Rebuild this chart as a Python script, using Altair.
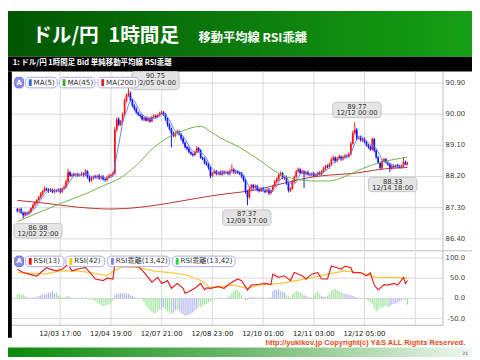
import altair as alt
import pandas as pd
import numpy as np

# ---------------- data ----------------
# hourly closes, bar 0 = 12/02 19:00 ... bar 200 = 12/15 03:00
close = [
    87.20, 87.25, 87.15, 87.08, 87.15, 87.12, 87.18, 87.28, 87.38, 87.45,
    87.52, 87.60, 87.70, 87.78, 87.85, 87.82, 87.78, 87.82, 87.76, 87.80,
    87.78, 87.82, 87.76, 87.85, 87.90, 88.05, 88.32, 88.22, 88.26, 88.24,
    88.27, 88.23, 88.25, 88.28, 88.24, 88.35, 88.18, 88.08, 88.15, 88.20,
    88.18, 88.22, 88.15, 88.20, 88.12, 88.10, 88.18, 88.22, 88.25, 88.30,
    89.55, 89.85, 89.70, 89.80, 90.00, 90.40, 90.55, 90.60, 90.40, 90.25,
    90.15, 90.05, 89.98, 89.95, 89.85, 89.90, 89.82, 89.88, 89.80, 89.92,
    89.95, 89.92, 89.98, 90.02, 90.05, 90.00, 89.85, 89.70, 89.58, 89.45,
    89.38, 89.45, 89.50, 89.42, 89.30, 89.18, 89.05, 89.00, 88.90, 88.85,
    88.82, 88.90, 89.02, 88.95, 88.75, 88.70, 88.60, 88.55, 88.45, 88.22,
    88.30, 88.35, 88.28, 88.32, 88.26, 88.34, 88.30, 88.33, 88.28, 88.36,
    88.40, 88.32, 88.35, 88.30, 88.28, 88.20, 88.10, 87.75, 87.60, 87.85,
    87.95, 87.88, 87.92, 87.82, 87.78, 87.85, 87.80, 87.76, 87.82, 87.72,
    87.80, 87.92, 88.05, 88.12, 88.25, 88.30, 88.15, 88.18, 88.00, 87.80,
    87.85, 88.05, 88.20, 88.35, 88.40, 88.30, 88.35, 88.28, 88.32, 88.26,
    88.25, 88.28, 88.22, 88.26, 88.30, 88.27, 88.35, 88.42, 88.50, 88.48,
    88.55, 88.68, 88.75, 88.65, 88.72, 88.78, 88.70, 88.76, 88.80, 88.78,
    88.85, 89.15, 89.45, 89.55, 89.30, 89.32, 89.25, 89.28, 89.20, 89.10,
    89.05, 88.98, 89.28, 88.95, 88.75, 88.60, 88.45, 88.65, 88.70, 88.60,
    88.55, 88.45, 88.50, 88.48, 88.52, 88.50, 88.47, 88.52, 88.62, 88.56,
    88.58,
]
first_open = 87.25
# wick lengths above / below the body, in sen (0.01 yen)
upper_wick = [
    4, 3, 5, 2, 4, 3, 5, 3, 4, 3,
    3, 4, 5, 3, 6, 3, 4, 5, 3, 4,
    3, 5, 4, 3, 4, 6, 10, 4, 3, 5,
    3, 4, 3, 5, 4, 6, 3, 4, 5, 3,
    4, 3, 5, 3, 4, 3, 4, 5, 3, 4,
    8, 5, 6, 4, 5, 6, 5, 15, 6, 5,
    4, 5, 3, 4, 5, 3, 4, 5, 3, 4,
    5, 4, 3, 5, 6, 4, 3, 5, 4, 3,
    5, 4, 6, 3, 4, 5, 3, 4, 5, 3,
    4, 5, 6, 3, 4, 3, 5, 4, 3, 4,
    3, 5, 4, 3, 4, 5, 3, 4, 3, 5,
    15, 4, 5, 3, 4, 5, 3, 4, 6, 5,
    4, 3, 5, 4, 3, 4, 5, 3, 4, 5,
    3, 4, 5, 6, 4, 5, 3, 4, 5, 3,
    4, 5, 3, 4, 6, 4, 5, 3, 4, 5,
    3, 4, 5, 3, 4, 5, 3, 6, 4, 5,
    4, 6, 5, 3, 4, 5, 3, 4, 5, 4,
    5, 6, 8, 22, 5, 4, 6, 4, 5, 3,
    4, 5, 4, 3, 5, 4, 3, 5, 4, 3,
    4, 3, 5, 4, 3, 5, 4, 3, 13, 4,
    5,
]
lower_wick = [
    4, 5, 3, 10, 4, 5, 3, 4, 3, 5,
    4, 3, 4, 5, 3, 4, 5, 3, 4, 5,
    4, 3, 5, 4, 3, 4, 5, 3, 4, 3,
    5, 4, 3, 4, 5, 3, 4, 5, 3, 4,
    3, 4, 5, 3, 4, 5, 4, 3, 4, 5,
    5, 6, 5, 4, 5, 4, 6, 5, 4, 5,
    5, 4, 3, 5, 4, 5, 3, 4, 5, 3,
    4, 5, 3, 4, 3, 5, 4, 6, 5, 41,
    4, 5, 3, 4, 6, 5, 4, 5, 3, 4,
    5, 3, 4, 5, 4, 3, 5, 4, 5, 7,
    4, 3, 5, 4, 3, 4, 5, 3, 4, 5,
    3, 4, 5, 3, 4, 5, 6, 5, 23, 4,
    5, 4, 3, 5, 4, 3, 4, 5, 3, 6,
    4, 5, 3, 4, 5, 4, 3, 5, 4, 6,
    5, 4, 3, 5, 4, 3, 4, 41, 5, 3,
    4, 5, 3, 4, 5, 3, 4, 5, 3, 4,
    5, 4, 3, 5, 4, 3, 5, 4, 5, 3,
    4, 5, 3, 4, 5, 3, 4, 5, 4, 3,
    5, 4, 3, 5, 4, 3, 4, 5, 4, 3,
    4, 12, 5, 3, 4, 5, 3, 4, 5, 3,
    4,
]

ma45_idx = [0, 14, 24, 35, 46, 51, 61, 70, 77, 84, 94, 100, 104, 114, 124, 134, 143, 153, 160, 168, 177, 187, 197, 200]
ma45_val = [86.90, 87.23, 87.46, 87.70, 87.98, 88.10, 88.52, 89.04, 89.32, 89.50, 89.65, 89.46, 89.32, 89.04, 88.68, 88.29, 88.12, 88.07, 88.07, 88.20, 88.43, 88.62, 88.73, 88.76]
ma200_idx = [0, 14, 30, 48, 107, 120, 137, 153, 160, 174, 185, 200]
ma200_val = [87.51, 87.43, 87.32, 87.26, 87.70, 87.79, 88.01, 88.20, 88.24, 88.30, 88.40, 88.46]

rsi13_idx = [0, 3, 6, 10, 12, 15, 17, 20, 23, 26, 28, 32, 35, 38, 40, 44, 46, 49, 50, 52, 54, 56, 58, 60, 62, 64, 66, 69,
             72, 74, 77, 79, 82, 85, 86, 88, 91, 94, 96, 97, 99, 103, 106, 109, 113, 115, 118, 120, 124, 127, 130, 131,
             134, 137, 140, 142, 146, 148, 151, 154, 156, 159, 161, 164, 166, 168, 171, 172, 176, 179, 181, 183, 185,
             188, 190, 193, 195, 198, 199, 200]
rsi13_val = [72, 64, 60, 55, 64, 76, 72, 68, 72, 84, 68, 74, 76, 60, 48, 44, 50, 48, 86, 82, 84, 80, 83, 80, 78, 70, 58, 40,
             52, 37, 44, 25, 37, 25, 13, 17, 25, 37, 21, 26, 25, 29, 25, 37, 48, 44, 21, 33, 35, 37, 34, 60,
             52, 56, 44, 64, 56, 48, 60, 64, 48, 48, 80, 76, 72, 80, 76, 64, 64, 56, 63, 33, 21,
             34, 33, 37, 33, 52, 37, 44]
rsi42_idx = [0, 14, 22, 30, 38, 46, 50, 54, 62, 70, 79, 87, 95, 99, 103, 111, 118, 124, 135, 143, 152, 159, 168, 176, 184, 192, 200]
rsi42_val = [64, 60, 68, 68, 64, 56, 70, 78, 76, 68, 63, 58, 42, 26, 29, 33, 25, 33, 37, 44, 52, 60, 68, 63, 52, 52, 50]

# RSI kairi histogram, one bar per hour, and its two colour classes (p = lavender, g = green)
kairi = [
    10, 12, 9, 11, 6, 3, 2, 1, 2, 3,
    4, 6, 8, 10, 9, 12, 14, 15, 18, 12,
    14, 8, 5, 3, 2, 4, 5, 3, 2, 1,
    -1, -2, 1, 2, -1, 2, -2, -3, -2, -4,
    -6, -10, -14, -17, -19, -18, -16, -15, -12, -6,
    8, 12, 13, 13, 12, 13, 12, 11, 8, 6,
    3, 1, -2, 2, -3, -10, -18, -25, -30, -34,
    -38, -36, -32, -28, -25, -22, -26, -32, -36, -38,
    -35, -30, -28, -32, -36, -40, -43, -42, -40, -38,
    -35, -30, -26, -20, -22, -18, -15, -14, -10, -8,
    -4, -2, -1, 1, 2, -2, -1, 2, 3, 8,
    14, 18, 21, 20, 15, 8, -2, -4, -3, 2,
    3, 2, 3, 2, 1, 3, 2, 1, 2, 1,
    3, 18, 22, 20, 23, 19, 16, 14, 8, 5,
    3, 10, 15, 18, 17, 14, 12, 8, 6, 4,
    3, 2, 8, 14, 18, 12, 6, 4, 3, 5,
    12, 18, 22, 23, 20, 18, 15, 14, 12, 10,
    9, 8, 6, 4, 2, 1, -1, 1, -2, -4,
    -6, -10, -14, -25, -31, -28, -22, -24, -20, -18,
    -22, -20, -16, -14, -12, -10, -8, -5, 2, -4,
    -15,
]
kairi_kind = list("".join([
    "ggggggggpp", "pppppppppp", "gggggppggg", "ggppgpgggg", "gggggggggg",
    "pppppppppp", "pggggggggg", "ggggppgggg", "ppgppppppp", "pppggggggg",
    "ggpppggppg", "ggggggpppp", "pppppppggp", "pppppgppgg", "gggggggppg",
    "ppggggpppg", "ggggggggpp", "pppppggpgg", "gggggggggg", "gppppppppg",
    "g",
]))

x_tick_idx = [22, 48, 74, 100, 126, 152, 178]
x_tick_lab = ["12/03 17:00", "12/04 19:00", "12/07 21:00", "12/08 23:00",
              "12/10 01:00", "12/11 03:00", "12/12 05:00"]
grid_idx = x_tick_idx + [204]
price_ticks = [86.40, 87.30, 88.20, 89.10, 90.00, 90.90]
rsi_ticks = [100.0, 50.0, 0.0, -50.0]

note_value = ["90.75", "89.77", "88.33", "87.37", "86.98"]
note_time = ["12/05 04:00", "12/12 00:00", "12/14 18:00", "12/09 17:00", "12/02 22:00"]

ma_legend = ["MA(5)", "MA(45)", "MA(200)"]
rsi_legend = ["RSI(13)", "RSI(42)", "RSI乖離(13,42)", "RSI乖離(13,42)"]

N = len(close)
assert len(upper_wick) == N and len(lower_wick) == N and len(kairi) == N and len(kairi_kind) == N

# ---------------- tables ----------------
c = np.array(close)
o = np.array([first_open] + close[:-1])
candles = pd.DataFrame({
    "i": np.arange(N), "o": o, "c": c,
    "h": np.maximum(o, c) + np.array(upper_wick) / 100.0,
    "l": np.minimum(o, c) - np.array(lower_wick) / 100.0,
})
candles["dir"] = np.where(candles["c"] >= candles["o"], "up", "down")
ma45 = pd.DataFrame({"i": ma45_idx, "v": ma45_val})
ma200 = pd.DataFrame({"i": ma200_idx, "v": ma200_val})
rsi13 = pd.DataFrame({"i": rsi13_idx, "v": rsi13_val})
rsi42 = pd.DataFrame({"i": rsi42_idx, "v": rsi42_val})
hist = pd.DataFrame({"i": np.arange(N), "v": kairi, "z": 0.0, "k": kairi_kind})
xt = pd.DataFrame({"i": x_tick_idx, "lab": x_tick_lab})
gx = pd.DataFrame({"i": grid_idx})
pt = pd.DataFrame({"v": price_ticks, "lab": [f"{v:.2f}" for v in price_ticks]})
rt = pd.DataFrame({"v": rsi_ticks, "lab": [f"{v:.1f}" for v in rsi_ticks]})
one = pd.DataFrame({"k": [0]})

# ---------------- layout (reference pixels scaled to the visible page) ----------------
W, H = 472, 352
FX, FY = W / 480.0, H / 360.0


def px(X):
    return round(X * FX, 2)


def py(Y):
    return round(Y * FY, 2)


I_DOM = [(0 - 4.65) / 2.0615, (480 - 4.65) / 2.0615]
P_DOM = [90.90 - (360 - 75) / 36.0, 90.90 + 75 / 36.0]
R_DOM = [(299 - 360) / 0.42, 299 / 0.42]


def XI(f):
    return alt.X(f, scale=alt.Scale(domain=I_DOM, nice=False, zero=False), axis=None)


def PY(f):
    return alt.Y(f, scale=alt.Scale(domain=P_DOM, nice=False, zero=False), axis=None)


def RY(f):
    return alt.Y(f, scale=alt.Scale(domain=R_DOM, nice=False, zero=False), axis=None)


def rect(x1, y1, x2, y2, **kw):
    return alt.Chart(one).mark_rect(**kw).encode(
        x=alt.value(px(x1)), x2=alt.value(px(x2)), y=alt.value(py(y1)), y2=alt.value(py(y2)))


def text(s, X, Y, **kw):
    return alt.Chart(one).mark_text(text=s, **kw).encode(x=alt.value(px(X)), y=alt.value(py(Y)))


def hline(Y, X1, X2, color, w=1):
    return alt.Chart(one).mark_rule(color=color, strokeWidth=w).encode(
        x=alt.value(px(X1)), x2=alt.value(px(X2)), y=alt.value(py(Y)))


def vline(X, Y1, Y2, color, w=1):
    return alt.Chart(one).mark_rule(color=color, strokeWidth=w).encode(
        x=alt.value(px(X)), y=alt.value(py(Y1)), y2=alt.value(py(Y2)))


FONT = "DejaVu Sans, Noto Sans CJK JP"
JP = "Noto Sans CJK JP"
GRID = "#d9d9d9"
BORDER = "#bdbdbd"

layers = []

# backgrounds
layers.append(rect(0, 47, 480, 350, color="#ffffff"))
layers.append(rect(0, 0, 480, 47.5, color=alt.LinearGradient(
    gradient="linear", x1=0, x2=1, y1=0, y2=0,
    stops=[alt.GradientStop(color="#005600", offset=0), alt.GradientStop(color="#0d7f0d", offset=0.55),
           alt.GradientStop(color="#15a015", offset=1)])))
layers.append(rect(0, 47.5, 480, 63, color="#000000"))
layers.append(rect(0, 63, 4, 340, color="#000000"))
layers.append(rect(0, 350, 480, 360, color=alt.LinearGradient(
    gradient="linear", x1=0, x2=1, y1=0, y2=0,
    stops=[alt.GradientStop(color="#0a8a0a", offset=0), alt.GradientStop(color="#6cb86c", offset=0.5),
           alt.GradientStop(color="#eef7ee", offset=1)])))

# grid
layers.append(alt.Chart(pt).mark_rule(color=GRID, strokeWidth=1).encode(
    y=PY("v:Q"), x=alt.value(px(4)), x2=alt.value(px(450))))
layers.append(alt.Chart(rt).mark_rule(color=GRID, strokeWidth=1).encode(
    y=RY("v:Q"), x=alt.value(px(4)), x2=alt.value(px(450))))
layers.append(alt.Chart(gx).mark_rule(color=GRID, strokeWidth=1).encode(
    x=XI("i:Q"), y=alt.value(py(63)), y2=alt.value(py(249))))
layers.append(alt.Chart(gx).mark_rule(color=GRID, strokeWidth=1).encode(
    x=XI("i:Q"), y=alt.value(py(251)), y2=alt.value(py(327))))
layers.append(vline(450, 63, 327, BORDER))
layers.append(hline(249.5, 4, 480, BORDER))
layers.append(hline(327, 4, 450, BORDER))

# price panel
layers.append(alt.Chart(ma200).mark_line(color="#b83232", strokeWidth=1, interpolate="monotone").encode(
    x=XI("i:Q"), y=PY("v:Q")))
cand_color = alt.Color("dir:N", scale=alt.Scale(domain=["up", "down"], range=["#ff1414", "#1414ff"]), legend=None)
layers.append(alt.Chart(candles).mark_rule(strokeWidth=1).encode(
    x=XI("i:Q"), y=PY("l:Q"), y2="h:Q", color=cand_color))
layers.append(alt.Chart(candles).mark_bar(width=1.8).encode(
    x=XI("i:Q"), y=PY("o:Q"), y2="c:Q", color=cand_color))
layers.append(alt.Chart(ma45).mark_line(color="#74b446", strokeWidth=1, interpolate="monotone").encode(
    x=XI("i:Q"), y=PY("v:Q")))
layers.append(alt.Chart(candles).transform_window(
    ma5="mean(c)", frame=[-4, 0], sort=[alt.SortField("i", order="ascending")]
).mark_line(color="#5a86ff", strokeWidth=1).encode(x=XI("i:Q"), y=PY("ma5:Q")))

# RSI panel
layers.append(alt.Chart(hist).mark_bar(width=1.1).encode(
    x=XI("i:Q"), y=RY("v:Q"), y2="z:Q",
    color=alt.Color("k:N", scale=alt.Scale(domain=["p", "g"], range=["#b0b0f2", "#98e498"]), legend=None)))
layers.append(alt.Chart(rsi42).mark_line(color="#ffc640", strokeWidth=1.2).encode(x=XI("i:Q"), y=RY("v:Q")))
layers.append(alt.Chart(rsi13).mark_line(color="#e02424", strokeWidth=1.2).encode(x=XI("i:Q"), y=RY("v:Q")))

# axis labels
layers.append(alt.Chart(pt).mark_text(align="right", baseline="middle", fontSize=7, font=FONT, color="#444444").encode(
    y=PY("v:Q"), x=alt.value(px(473)), text="lab:N"))
layers.append(alt.Chart(rt).mark_text(align="right", baseline="middle", fontSize=7, font=FONT, color="#444444").encode(
    y=RY("v:Q"), x=alt.value(px(473)), text="lab:N"))
layers.append(alt.Chart(xt).mark_text(align="center", baseline="middle", fontSize=7, font=FONT, color="#222222").encode(
    x=XI("i:Q"), y=alt.value(py(336)), text="lab:N"))

# annotations (value + time boxes)
note_boxes = [(128, 63, 177, 82), (336, 95, 386, 111), (373, 173, 423, 188), (222, 207, 272, 223), (6, 221, 56, 236)]
for val, tim, (x1, y1, x2, y2) in zip(note_value, note_time, note_boxes):
    layers.append(rect(x1, y1, x2, y2, color="#e4e4e4", stroke="#c6c6c6", strokeWidth=1, cornerRadius=3))
    xc = (x1 + x2) / 2
    layers.append(text(val, xc, y1 + 4.5, align="center", baseline="middle", fontSize=6.9, font=FONT, color="#333333"))
    layers.append(text(tim, xc, y1 + 11.5, align="center", baseline="middle", fontSize=6.9, font=FONT, color="#333333"))

# legends
def legend_item(label, color, x1, x2, yc):
    out = [rect(x1, yc - 5.5, x2, yc + 5.5, color="#ffffff", stroke="#aaaae8", strokeWidth=1, cornerRadius=4),
           rect(x1 + 3.5, yc - 3.5, x1 + 6.5, yc + 3.5, color=color),
           text(label, x1 + 8.5, yc, align="left", baseline="middle", fontSize=7.3, font=FONT, color="#333333")]
    return out


def a_button(yc):
    return [rect(7, yc - 5.5, 16, yc + 5.5, color="#8c8ce8", stroke="#7272d2", strokeWidth=1, cornerRadius=3),
            text("A", 11.5, yc, align="center", baseline="middle", fontSize=7, font=FONT, color="#ffffff",
                 fontWeight="bold")]


layers += a_button(74.5)
for lab, col, (x1, x2) in zip(ma_legend, ["#3366ff", "#44aa22", "#d02828"], [(18, 51), (53, 90), (93, 135)]):
    layers += legend_item(lab, col, x1, x2, 74.5)
layers += a_button(260.5)
for lab, col, (x1, x2) in zip(rsi_legend, ["#ee1111", "#ffcc00", "#8080ff", "#22dd44"],
                              [(18, 58), (60, 100), (103, 167), (170, 235)]):
    layers += legend_item(lab, col, x1, x2, 260.5)

# titles and footer texts
layers.append(text("ドル/円", 25, 26.5, align="left", baseline="middle", fontSize=20, font=JP, fontWeight="bold",
                   color="#ffffff"))
layers.append(text("1時間足", 104, 26.5, align="left", baseline="middle", fontSize=20, font=JP, fontWeight="bold",
                   color="#ffffff"))
layers.append(text("移動平均線 RSI乖離", 197, 28.5, align="left", baseline="middle", fontSize=12.5, font=JP,
                   fontWeight="bold", color="#ffffff"))
layers.append(text("1: ドル/円 1時間足 Bid 単純移動平均線 RSI乖離", 5, 54.5, align="left", baseline="middle",
                   fontSize=7.6, font=JP, fontWeight="bold", color="#ffffff"))
layers.append(text("http://yukikov.jp  Copyright(c) Y&S ALL Rights Reserved.", 473, 345.5, align="right",
                   baseline="middle", fontSize=7.6, font="Liberation Sans Narrow, Liberation Sans",
                   fontWeight="bold", color="#e44a14"))
layers.append(text("21", 476, 356.5, align="right", baseline="middle", fontSize=4.5, font=FONT, color="#333333"))

chart = alt.layer(*layers).resolve_scale(y="independent", color="independent").properties(
    width=W, height=H, padding=0, autosize="none", background="#ffffff"
).configure_view(stroke=None)

chart.save("out.html", embed_options={"renderer": "svg", "actions": False})
